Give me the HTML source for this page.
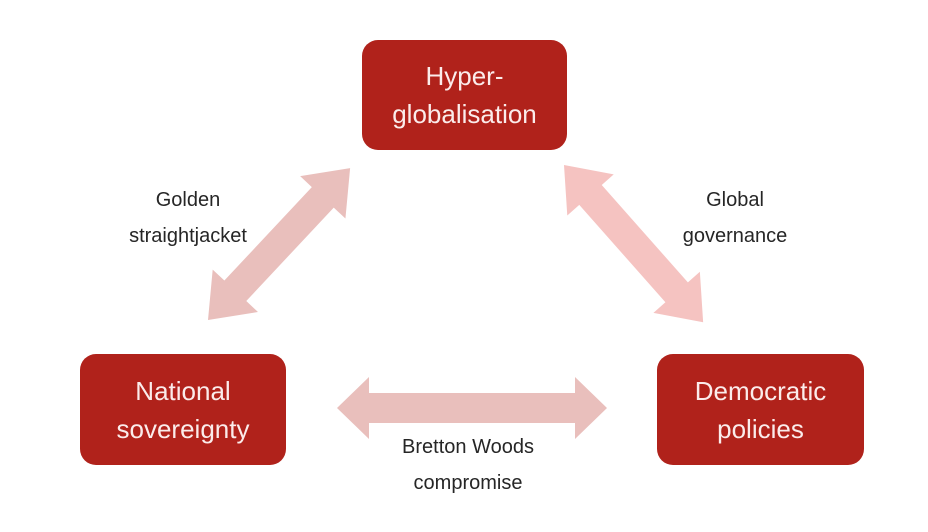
<!DOCTYPE html>
<html><head><meta charset="utf-8"><style>
body{margin:0;background:#fff;width:928px;height:532px;overflow:hidden;position:relative;font-family:"Liberation Sans",sans-serif}
.b{position:absolute;background:#b0221b;border-radius:16px;color:#fbeceb;font-size:26px;line-height:38px;text-align:center;display:flex;align-items:center;justify-content:center}
.l{position:absolute;color:#262626;font-size:20px;line-height:36px;text-align:center;width:240px}
svg{position:absolute;left:0;top:0}
</style></head><body>
<svg width="928" height="532">
<defs><polygon id="a" points="0,0 34,-31 34,-15 0,-15"/></defs>
<g transform="translate(337,408)"><polygon fill="#e9bfbc" points="0,0 32,-31 32,-15 238,-15 238,-31 270,0 238,31 238,15 32,15 32,31"/></g>
<g transform="translate(208,320) rotate(-46.9)"><polygon fill="#e9bfbc" points="0,0 40,-31 40,-15 168,-15 168,-31 208,0 168,31 168,15 40,15 40,31"/></g>
<g transform="translate(564,165) rotate(48.5)"><polygon fill="#f5c3c1" points="0,0 40,-31 40,-15 170,-15 170,-31 210,0 170,31 170,15 40,15 40,31"/></g>
</svg>
<div class="b" style="left:362px;top:40px;width:205px;height:110px">Hyper-<br>globalisation</div>
<div class="b" style="left:80px;top:354px;width:206px;height:111px">National<br>sovereignty</div>
<div class="b" style="left:657px;top:354px;width:207px;height:111px">Democratic<br>policies</div>
<div class="l" style="left:68px;top:182px">Golden<br>straightjacket</div>
<div class="l" style="left:615px;top:182px">Global<br>governance</div>
<div class="l" style="left:348px;top:429px">Bretton Woods<br>compromise</div>
</body></html>
